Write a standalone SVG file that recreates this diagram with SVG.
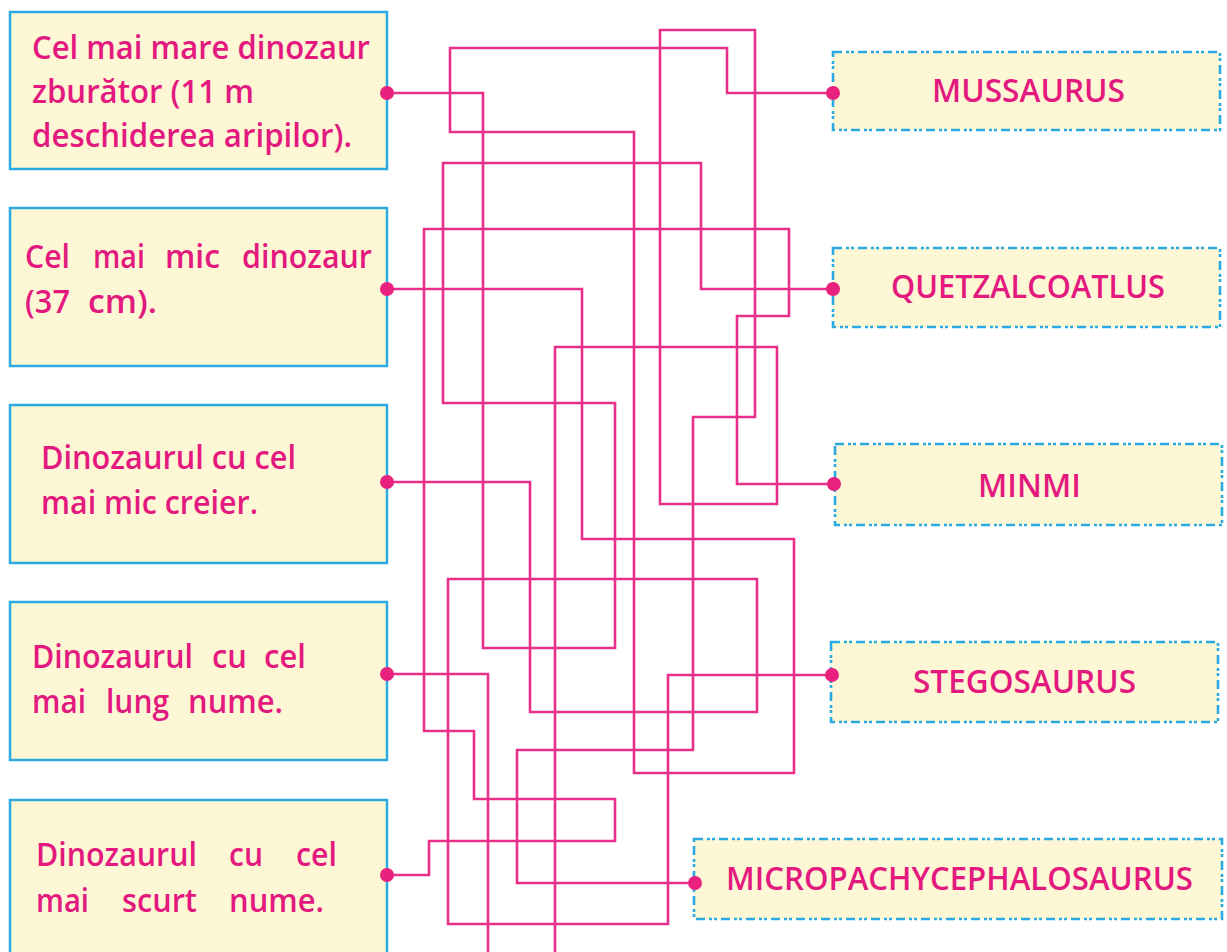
<svg xmlns="http://www.w3.org/2000/svg" width="1227" height="952" viewBox="0 0 1227 952">
<style>
.lb{fill:#FDF7D5;stroke:#2AAAE1;stroke-width:2.5}
.rb{fill:#FDF7D5;stroke:#2AAAE1;stroke-width:2.6;stroke-dasharray:9 4 3 2 3 4}
.t{font-family:"Open Sans","Liberation Sans",sans-serif;font-size:32px;font-weight:600;fill:#E4197F}
.c{fill:none;stroke:#E8308A;stroke-width:2.6;stroke-linejoin:miter}
.d{fill:#E8217F}
</style>
<rect width="1227" height="952" fill="#FFFFFF"/>

<g id="q1">
<rect class="lb" x="10" y="12" width="377" height="157"/>
<text class="t" x="32" y="59" textLength="338" lengthAdjust="spacingAndGlyphs">Cel mai mare dinozaur</text>
<text class="t" x="32" y="103" textLength="222" lengthAdjust="spacingAndGlyphs">zburător (11 m</text>
<text class="t" x="32" y="147" textLength="320" lengthAdjust="spacingAndGlyphs">deschiderea aripilor).</text>
</g>

<g id="q2">
<rect class="lb" x="10" y="208" width="377" height="158"/>
<text class="t" y="268"><tspan x="25" textLength="45" lengthAdjust="spacingAndGlyphs">Cel</tspan><tspan x="93" textLength="52" lengthAdjust="spacingAndGlyphs">mai</tspan><tspan x="165" textLength="55" lengthAdjust="spacingAndGlyphs">mic</tspan><tspan x="242" textLength="130" lengthAdjust="spacingAndGlyphs">dinozaur</tspan></text>
<text class="t" y="313"><tspan x="25" textLength="45" lengthAdjust="spacingAndGlyphs">(37</tspan><tspan x="88" textLength="69" lengthAdjust="spacingAndGlyphs">cm).</tspan></text>
</g>

<g id="q3">
<rect class="lb" x="10" y="405" width="377" height="158"/>
<text class="t" x="41" y="469" textLength="255" lengthAdjust="spacingAndGlyphs">Dinozaurul cu cel</text>
<text class="t" x="41" y="514" textLength="217" lengthAdjust="spacingAndGlyphs">mai mic creier.</text>
</g>

<g id="q4">
<rect class="lb" x="10" y="602" width="377" height="158"/>
<text class="t" y="668"><tspan x="32" textLength="161" lengthAdjust="spacingAndGlyphs">Dinozaurul</tspan><tspan x="212" textLength="35" lengthAdjust="spacingAndGlyphs">cu</tspan><tspan x="264" textLength="42" lengthAdjust="spacingAndGlyphs">cel</tspan></text>
<text class="t" y="713"><tspan x="32" textLength="54" lengthAdjust="spacingAndGlyphs">mai</tspan><tspan x="106" textLength="63" lengthAdjust="spacingAndGlyphs">lung</tspan><tspan x="188" textLength="95" lengthAdjust="spacingAndGlyphs">nume.</tspan></text>
</g>

<g id="q5">
<rect class="lb" x="10" y="800" width="377" height="170"/>
<text class="t" y="866"><tspan x="36" textLength="161" lengthAdjust="spacingAndGlyphs">Dinozaurul</tspan><tspan x="229" textLength="34" lengthAdjust="spacingAndGlyphs">cu</tspan><tspan x="296" textLength="41" lengthAdjust="spacingAndGlyphs">cel</tspan></text>
<text class="t" y="912"><tspan x="36" textLength="53" lengthAdjust="spacingAndGlyphs">mai</tspan><tspan x="122" textLength="75" lengthAdjust="spacingAndGlyphs">scurt</tspan><tspan x="229" textLength="95" lengthAdjust="spacingAndGlyphs">nume.</tspan></text>
</g>

<g id="a1">
<rect class="rb" x="833" y="52" width="387" height="78"/>
<text class="t" x="932" y="102" textLength="193" lengthAdjust="spacingAndGlyphs">MUSSAURUS</text>
</g>
<g id="a2">
<rect class="rb" x="833" y="248" width="387" height="79"/>
<text class="t" x="891" y="298" textLength="274" lengthAdjust="spacingAndGlyphs">QUETZALCOATLUS</text>
</g>
<g id="a3">
<rect class="rb" x="835" y="444" width="387" height="81"/>
<text class="t" x="978" y="497" textLength="103" lengthAdjust="spacingAndGlyphs">MINMI</text>
</g>
<g id="a4">
<rect class="rb" x="831" y="642" width="387" height="80"/>
<text class="t" x="913" y="693" textLength="223" lengthAdjust="spacingAndGlyphs">STEGOSAURUS</text>
</g>
<g id="a5">
<rect class="rb" x="694" y="839" width="528" height="80"/>
<text class="t" x="726" y="890" textLength="467" lengthAdjust="spacingAndGlyphs">MICROPACHYCEPHALOSAURUS</text>
</g>

<g id="connectors">
<path class="c" d="M387,93 H483 V648 H615 V403 H443 V163 H701 V289 H833"/>
<path class="c" d="M387,289 H582 V539 H794 V773 H634 V132 H450 V48 H727 V93 H833"/>
<path class="c" d="M387,482 H530 V712 H757 V579 H448 V924 H668 V675 H832"/>
<path class="c" d="M387,674 H488 V952"/>
<path class="c" d="M387,875 H429 V841 H615 V799 H474 V731 H424 V229 H789 V316 H737 V484 H834"/>
<path class="c" d="M695,883 H517 V750 H693 V417 H755 V30 H660 V504 H777 V347 H555 V952"/>
<circle class="d" cx="387" cy="93" r="7"/>
<circle class="d" cx="387" cy="289" r="7"/>
<circle class="d" cx="387" cy="482" r="7"/>
<circle class="d" cx="387" cy="674" r="7"/>
<circle class="d" cx="387" cy="875" r="7"/>
<circle class="d" cx="833" cy="93" r="7"/>
<circle class="d" cx="833" cy="289" r="7"/>
<circle class="d" cx="834" cy="484" r="7"/>
<circle class="d" cx="832" cy="675" r="7"/>
<circle class="d" cx="695" cy="883" r="7"/>
</g>
</svg>
